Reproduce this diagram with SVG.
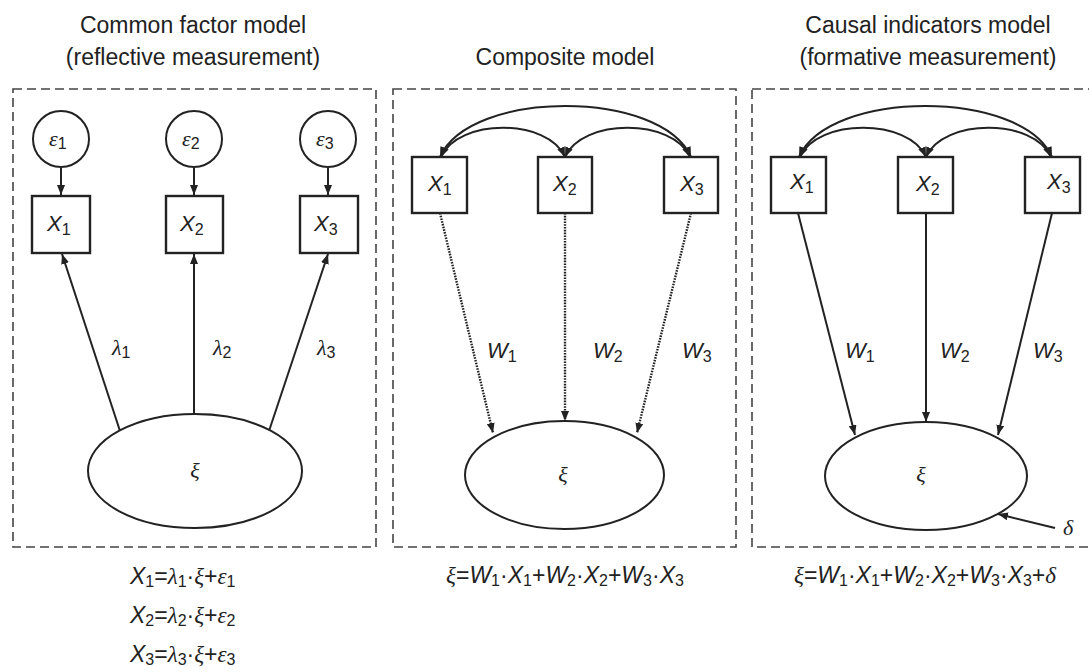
<svg xmlns="http://www.w3.org/2000/svg" width="1089" height="672" viewBox="0 0 1089 672">
<defs>
<marker id="ah" viewBox="0 0 10 8" refX="10" refY="4" markerWidth="10" markerHeight="8" markerUnits="userSpaceOnUse" orient="auto-start-reverse">
<path d="M0,0 L10,4 L0,8 z" fill="#222"/>
</marker>
</defs>
<style>
.frame{fill:none;stroke:#444;stroke-width:1.6;stroke-dasharray:9 5}
.box{fill:#fff;stroke:#222;stroke-width:2.4}
.ell{fill:#fff;stroke:#222;stroke-width:2}
.cir{fill:#fff;stroke:#222;stroke-width:2}
.ln{fill:none;stroke:#222;stroke-width:2}
.dot{fill:none;stroke:#222;stroke-width:2.4;stroke-dasharray:1.6 1.2}
.title{font-family:"Liberation Sans",Arial,sans-serif;font-size:23px;fill:#222;text-anchor:middle}
.v{font-family:"Liberation Sans",Arial,sans-serif;font-style:italic;font-size:22px;fill:#222}
.g{font-family:"Liberation Serif","Times New Roman",serif;font-style:italic;font-size:22px;fill:#222}
.sub{font-family:"Liberation Sans",Arial,sans-serif;font-style:normal;font-size:16px}
.eq{font-family:"Liberation Sans",Arial,sans-serif;font-size:23px;fill:#222}
.it{font-style:italic}
.gs{font-family:"Liberation Serif","Times New Roman",serif;font-style:italic}
</style>

<g id="titles">
<text class="title" x="193" y="33">Common factor model</text>
<text class="title" x="193" y="65">(reflective measurement)</text>
<text class="title" x="565" y="65">Composite model</text>
<text class="title" x="928" y="33">Causal indicators model</text>
<text class="title" x="928" y="65">(formative measurement)</text>
</g>

<g id="frames">
<rect class="frame" x="13" y="89" width="363" height="458"/>
<rect class="frame" x="393" y="89" width="343" height="458"/>
<rect class="frame" x="752" y="89" width="345" height="458"/>
</g>

<g id="connectors">
<line class="ln" x1="61" y1="168" x2="61" y2="195" marker-end="url(#ah)"/>
<line class="ln" x1="194" y1="168" x2="194" y2="195" marker-end="url(#ah)"/>
<line class="ln" x1="328" y1="168" x2="328" y2="195" marker-end="url(#ah)"/>
<line class="ln" x1="120" y1="431" x2="62" y2="254" marker-end="url(#ah)"/>
<line class="ln" x1="194" y1="414" x2="194" y2="254" marker-end="url(#ah)"/>
<line class="ln" x1="269" y1="431" x2="328" y2="254" marker-end="url(#ah)"/>
<path class="ln" d="M440,157 C470,89 661,89 691,157" marker-start="url(#ah)" marker-end="url(#ah)"/>
<path class="ln" d="M441,157 C458,118 548,118 565,157" marker-start="url(#ah)" marker-end="url(#ah)"/>
<path class="ln" d="M565,157 C582,118 673,118 690,157" marker-start="url(#ah)" marker-end="url(#ah)"/>
<line class="dot" x1="440" y1="213" x2="493" y2="433" marker-end="url(#ah)"/>
<line class="dot" x1="565" y1="213" x2="565" y2="421" marker-end="url(#ah)"/>
<line class="dot" x1="691" y1="213" x2="637" y2="433" marker-end="url(#ah)"/>
<path class="ln" d="M799,157 C829,89 1022,89 1052,157" marker-start="url(#ah)" marker-end="url(#ah)"/>
<path class="ln" d="M800,157 C817,118 909,118 926,157" marker-start="url(#ah)" marker-end="url(#ah)"/>
<path class="ln" d="M926,157 C943,118 1034,118 1051,157" marker-start="url(#ah)" marker-end="url(#ah)"/>
<line class="ln" x1="798" y1="213" x2="855" y2="435" marker-end="url(#ah)"/>
<line class="ln" x1="926" y1="213" x2="926" y2="422" marker-end="url(#ah)"/>
<line class="ln" x1="1052" y1="213" x2="998" y2="435" marker-end="url(#ah)"/>
<line class="ln" x1="1055" y1="528" x2="998" y2="514" marker-end="url(#ah)"/>
</g>

<g id="p1-e1"><circle class="cir" cx="61" cy="139" r="28"/><text class="g" x="49" y="146">ε<tspan class="sub" dy="3">1</tspan></text></g>
<g id="p1-e2"><circle class="cir" cx="194" cy="139" r="28"/><text class="g" x="182" y="146">ε<tspan class="sub" dy="3">2</tspan></text></g>
<g id="p1-e3"><circle class="cir" cx="328" cy="139" r="28"/><text class="g" x="316" y="146">ε<tspan class="sub" dy="3">3</tspan></text></g>
<g id="p1-x1"><rect class="box" x="32" y="196" width="58" height="57"/><text class="v" x="47" y="231">X<tspan class="sub" dy="4">1</tspan></text></g>
<g id="p1-x2"><rect class="box" x="166" y="196" width="57" height="57"/><text class="v" x="180" y="231">X<tspan class="sub" dy="4">2</tspan></text></g>
<g id="p1-x3"><rect class="box" x="300" y="196" width="58" height="57"/><text class="v" x="314" y="231">X<tspan class="sub" dy="4">3</tspan></text></g>
<g id="p1-xi"><ellipse class="ell" cx="195" cy="471" rx="107" ry="57"/><text class="g" x="195" y="478" text-anchor="middle">ξ</text></g>
<g id="p1-labels">
<text class="g" x="112" y="355">λ<tspan class="sub" dy="3">1</tspan></text>
<text class="g" x="213" y="355">λ<tspan class="sub" dy="3">2</tspan></text>
<text class="g" x="317" y="355">λ<tspan class="sub" dy="3">3</tspan></text>
</g>

<g id="p2-x1"><rect class="box" x="412" y="157" width="55" height="56"/><text class="v" x="428" y="191">X<tspan class="sub" dy="4">1</tspan></text></g>
<g id="p2-x2"><rect class="box" x="538" y="157" width="54" height="56"/><text class="v" x="553" y="191">X<tspan class="sub" dy="4">2</tspan></text></g>
<g id="p2-x3"><rect class="box" x="664" y="157" width="54" height="56"/><text class="v" x="680" y="191">X<tspan class="sub" dy="4">3</tspan></text></g>
<g id="p2-xi"><ellipse class="ell" cx="564.5" cy="475" rx="99.5" ry="54"/><text class="g" x="563" y="482" text-anchor="middle">ξ</text></g>
<g id="p2-labels">
<text class="v" x="487" y="358">W<tspan class="sub" dy="4">1</tspan></text>
<text class="v" x="593" y="358">W<tspan class="sub" dy="4">2</tspan></text>
<text class="v" x="682" y="358">W<tspan class="sub" dy="4">3</tspan></text>
</g>

<g id="p3-x1"><rect class="box" x="771" y="157" width="55" height="56"/><text class="v" x="790" y="189">X<tspan class="sub" dy="4">1</tspan></text></g>
<g id="p3-x2"><rect class="box" x="898" y="157" width="55" height="56"/><text class="v" x="916" y="191">X<tspan class="sub" dy="4">2</tspan></text></g>
<g id="p3-x3"><rect class="box" x="1025" y="157" width="55" height="56"/><text class="v" x="1047" y="189">X<tspan class="sub" dy="4">3</tspan></text></g>
<g id="p3-xi"><ellipse class="ell" cx="926" cy="476" rx="101" ry="54"/><text class="g" x="921" y="482" text-anchor="middle">ξ</text></g>
<g id="p3-labels">
<text class="v" x="845" y="358">W<tspan class="sub" dy="4">1</tspan></text>
<text class="v" x="940" y="358">W<tspan class="sub" dy="4">2</tspan></text>
<text class="v" x="1033" y="358">W<tspan class="sub" dy="4">3</tspan></text>
<text class="g" x="1063" y="535">δ</text>
</g>

<g id="equations">
<text class="eq" x="130" y="584"><tspan class="it">X</tspan><tspan class="sub" dy="3">1</tspan><tspan dy="-3">=</tspan><tspan class="gs">λ</tspan><tspan class="sub" dy="3">1</tspan><tspan dy="-3">·</tspan><tspan class="gs">ξ</tspan>+<tspan class="gs">ε</tspan><tspan class="sub" dy="3">1</tspan></text>
<text class="eq" x="130" y="623"><tspan class="it">X</tspan><tspan class="sub" dy="3">2</tspan><tspan dy="-3">=</tspan><tspan class="gs">λ</tspan><tspan class="sub" dy="3">2</tspan><tspan dy="-3">·</tspan><tspan class="gs">ξ</tspan>+<tspan class="gs">ε</tspan><tspan class="sub" dy="3">2</tspan></text>
<text class="eq" x="130" y="662"><tspan class="it">X</tspan><tspan class="sub" dy="3">3</tspan><tspan dy="-3">=</tspan><tspan class="gs">λ</tspan><tspan class="sub" dy="3">3</tspan><tspan dy="-3">·</tspan><tspan class="gs">ξ</tspan>+<tspan class="gs">ε</tspan><tspan class="sub" dy="3">3</tspan></text>
<text class="eq" x="565" y="583" text-anchor="middle"><tspan class="gs">ξ</tspan>=<tspan class="it">W</tspan><tspan class="sub" dy="3">1</tspan><tspan dy="-3">·</tspan><tspan class="it">X</tspan><tspan class="sub" dy="3">1</tspan><tspan dy="-3">+</tspan><tspan class="it">W</tspan><tspan class="sub" dy="3">2</tspan><tspan dy="-3">·</tspan><tspan class="it">X</tspan><tspan class="sub" dy="3">2</tspan><tspan dy="-3">+</tspan><tspan class="it">W</tspan><tspan class="sub" dy="3">3</tspan><tspan dy="-3">·</tspan><tspan class="it">X</tspan><tspan class="sub" dy="3">3</tspan></text>
<text class="eq" x="925" y="583" text-anchor="middle"><tspan class="gs">ξ</tspan>=<tspan class="it">W</tspan><tspan class="sub" dy="3">1</tspan><tspan dy="-3">·</tspan><tspan class="it">X</tspan><tspan class="sub" dy="3">1</tspan><tspan dy="-3">+</tspan><tspan class="it">W</tspan><tspan class="sub" dy="3">2</tspan><tspan dy="-3">·</tspan><tspan class="it">X</tspan><tspan class="sub" dy="3">2</tspan><tspan dy="-3">+</tspan><tspan class="it">W</tspan><tspan class="sub" dy="3">3</tspan><tspan dy="-3">·</tspan><tspan class="it">X</tspan><tspan class="sub" dy="3">3</tspan><tspan dy="-3">+</tspan><tspan class="gs">δ</tspan></text>
</g>
</svg>
